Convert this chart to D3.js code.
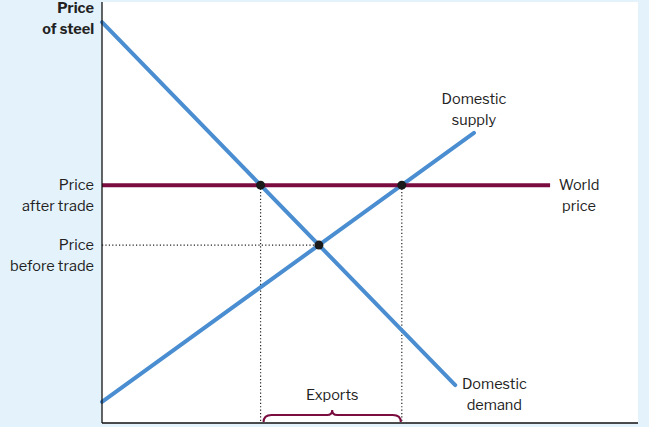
<!DOCTYPE html>
<html><head><meta charset="utf-8">
<script src="https://cdn.jsdelivr.net/npm/d3@7"></script>
<style>
body{margin:0;background:#e4f3fb;}
svg{display:block;font-family:"Libre Franklin","Roboto","Liberation Sans",sans-serif;}
</style></head>
<body><svg id="c" width="649" height="427"></svg>
<script>
// Data (quantity, price units)
const demandLine = [[0, 9.52], [6.59, 0.90]];
const supplyLine = [[0, 0.50], [6.94, 6.89]];
const worldPrice = 5.65;
const worldPriceEnd = 8.36;
const yLabels = [
  {lines: ["Price", "of steel"], p: 10.0, bold: true},
  {lines: ["Price", "after trade"], p: 5.65},
  {lines: ["Price", "before trade"], p: 4.23}
];
const curveLabels = [
  {lines: ["Domestic", "supply"], q: 6.94, p: 7.70},
  {lines: ["World", "price"], q: 8.9, p: 5.65},
  {lines: ["Domestic", "demand"], q: 7.32, p: 0.92}
];
const exportsLabel = "Exports";

(function () {
const svg = d3.select("#c");
const x = d3.scaleLinear().domain([0, 10]).range([102, 638]);
const y = d3.scaleLinear().domain([0, 10]).range([423, 2]);

const blue = "#4a8ed1", maroon = "#7a0c40";
const fs = 14.5;

svg.append("rect").attr("x", x(0)).attr("y", y(10)).attr("width", x(10) - x(0)).attr("height", y(0) - y(10)).attr("fill", "#fff");

function qAt(l, p) { const [[a, b], [c, d]] = l; return a + (c - a) * (p - b) / (d - b); }
function intersect(l1, l2) {
  const [[a1, b1], [c1, d1]] = l1, [[a2, b2], [c2, d2]] = l2;
  const m1 = (d1 - b1) / (c1 - a1), m2 = (d2 - b2) / (c2 - a2);
  const q = (b2 - b1) / (m1 - m2); return [q, b1 + m1 * q];
}
const eq = intersect(demandLine, supplyLine);
const qD = qAt(demandLine, worldPrice), qS = qAt(supplyLine, worldPrice);

const dot = g => g.attr("stroke", "#222").attr("stroke-width", 1.2).attr("stroke-dasharray", "1.2,2.2").attr("fill", "none");
svg.append("line").attr("x1", x(0)).attr("x2", x(eq[0])).attr("y1", y(eq[1])).attr("y2", y(eq[1])).call(dot);
svg.append("line").attr("x1", x(qD)).attr("x2", x(qD)).attr("y1", y(worldPrice)).attr("y2", y(0)).call(dot);
svg.append("line").attr("x1", x(qS)).attr("x2", x(qS)).attr("y1", y(worldPrice)).attr("y2", y(0)).call(dot);

const lg = d3.line().x(d => x(d[0])).y(d => y(d[1]));
svg.append("path").attr("d", lg(demandLine)).attr("stroke", blue).attr("stroke-width", 4).attr("fill", "none").attr("stroke-linecap", "round");
svg.append("path").attr("d", lg(supplyLine)).attr("stroke", blue).attr("stroke-width", 4).attr("fill", "none").attr("stroke-linecap", "round");
svg.append("path").attr("d", lg([[0, worldPrice], [worldPriceEnd, worldPrice]])).attr("stroke", maroon).attr("stroke-width", 4).attr("fill", "none");

[[qD, worldPrice], [qS, worldPrice], eq].forEach(p => {
  svg.append("circle").attr("cx", x(p[0])).attr("cy", y(p[1])).attr("r", 4.5).attr("fill", "#1a1a1a");
});

const bx0 = x(qD) + 3, bx1 = x(qS) - 1, by = y(0) - 1, bm = (bx0 + bx1) / 2, bt = by - 10;
svg.append("path").attr("d",
  `M${bx0},${by} Q${bx0},${bt + 3} ${bx0 + 8},${bt + 3} L${bm - 5},${bt + 3} Q${bm},${bt + 3} ${bm},${bt - 2} Q${bm},${bt + 3} ${bm + 5},${bt + 3} L${bx1 - 8},${bt + 3} Q${bx1},${bt + 3} ${bx1},${by}`)
  .attr("stroke", maroon).attr("stroke-width", 2).attr("fill", "none");
svg.append("text").attr("x", bm).attr("y", bt - 12).attr("text-anchor", "middle").attr("font-size", fs).attr("fill", "#222").text(exportsLabel);

svg.append("line").attr("x1", x(0)).attr("x2", x(0)).attr("y1", y(10)).attr("y2", y(0)).attr("stroke", "#111").attr("stroke-width", 1.3);
svg.append("line").attr("x1", x(0)).attr("x2", x(10)).attr("y1", y(0)).attr("y2", y(0)).attr("stroke", "#111").attr("stroke-width", 1.3);

yLabels.forEach((l, i) => {
  const t = svg.append("text").attr("text-anchor", "end").attr("font-size", fs).attr("fill", "#222")
    .attr("font-weight", l.bold ? "bold" : "normal");
  const base = i === 0 ? 13 : y(l.p) + 5;
  l.lines.forEach((s, j) => t.append("tspan").attr("x", 94).attr("y", base + j * 21).text(s));
});

curveLabels.forEach(l => {
  const t = svg.append("text").attr("text-anchor", "middle").attr("font-size", fs).attr("fill", "#222");
  l.lines.forEach((s, j) => t.append("tspan").attr("x", x(l.q)).attr("y", y(l.p) + 5 + j * 21).text(s));
});
})();
</script></body></html>
